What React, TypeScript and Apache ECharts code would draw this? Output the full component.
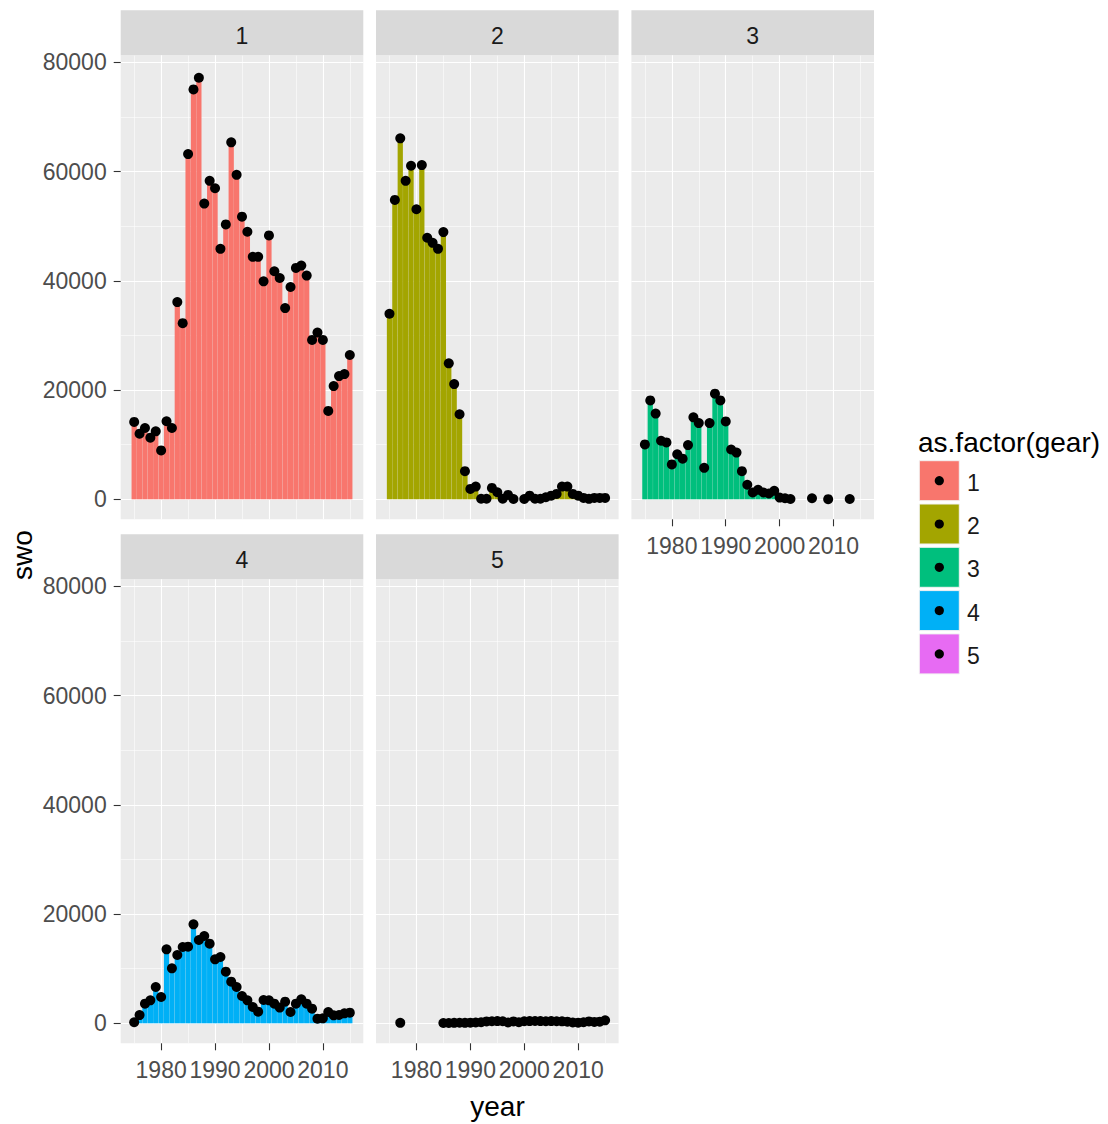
import React, { useEffect, useRef } from "react";
import * as echarts from "echarts";

// ---------- data ----------
const YEARS = [
  1975, 1976, 1977, 1978, 1979, 1980, 1981, 1982, 1983, 1984, 1985, 1986, 1987, 1988,
  1989, 1990, 1991, 1992, 1993, 1994, 1995, 1996, 1997, 1998, 1999, 2000, 2001, 2002,
  2003, 2004, 2005, 2006, 2007, 2008, 2009, 2010, 2011, 2012, 2013, 2014, 2015,
];
const GEARS = ["1", "2", "3", "4", "5"];
const GEAR_COLORS = ["#F8766D", "#A3A500", "#00BF7D", "#00B0F6", "#E76BF3"];

const SWO_GEAR1 = [
  14160, 12015, 13057, 11280, 12444, 8950, 14283, 13057,
  36106, 32244, 63200, 75031, 77177, 54128, 58296, 56948,
  45852, 50327, 65346, 59400, 51737, 48979, 44381, 44381,
  39906, 48304, 41745, 40519, 35002, 38864, 42358, 42787,
  40948, 29179, 30527, 29179, 16183, 20719, 22558, 22926, 26420,
];
const SWO_GEAR2 = [
  33960, 54800, 66080, 58300, 61055, 53090, 61180, 47875,
  46956, 45852, 48917, 24888, 21087, 15570, 5150, 1900,
  2330, 100, 100, 2080, 1290, 100, 800, 50,
  null, 50, 670, 100, 100, 370, 670, 980,
  2330, 2330, 980, 670, 250, 80, 250, 250, 250,
];
const SWO_GEAR3 = [
  10044, 18100, 15690, 10726, 10416, 6386, 8246, 7440,
  9920, 15000, 13950, 5766, 13950, 19344, 18100, 14260,
  9114, 8556, 5146, 2666, 1240, 1736, 1240, 1054,
  1550, 310, 186, 50, null, null, null, 186,
  null, null, 30, null, null, null, 50, null, null,
];
const SWO_GEAR4 = [
  200, 1500, 3600, 4200, 6650, 4820, 13540, 10065,
  12505, 13970, 14030, 18120, 15250, 15980, 14580, 11710,
  12140, 9455, 7625, 6650, 5000, 4210, 2990, 2135,
  4270, 4210, 3600, 2870, 3965, 2074, 3600, 4390,
  3600, 2680, 850, 915, 2074, 1464, 1525, 1830, 1950,
];
const SWO_GEAR5 = [
  null, null, 80, null, null, null, null, null,
  null, null, 50, 60, 80, 100, 90, 120,
  150, 200, 350, 380, 400, 380, 150, 350,
  200, 380, 400, 420, 400, 380, 400, 380,
  360, 300, 150, 120, 200, 350, 250, 300, 550,
];
const SWO_BY_GEAR = [SWO_GEAR1, SWO_GEAR2, SWO_GEAR3, SWO_GEAR4, SWO_GEAR5];

const Y_MAJOR_TICKS = [0, 20000, 40000, 60000, 80000];
const Y_MINOR_TICKS = [10000, 30000, 50000, 70000];
const X_MAJOR_TICKS = [1980, 1990, 2000, 2010];
const X_MINOR_TICKS = [1975, 1985, 1995, 2005, 2015];

const X_TITLE = "year";
const Y_TITLE = "swo";
const LEGEND_TITLE = "as.factor(gear)";

// ---------- layout ----------
const W = 1108;
const H = 1124;
const FONT = "'Liberation Sans', Arial, Helvetica, sans-serif";
const X_MIN = 1972.5;
const X_MAX = 2017.5;
const Y_MIN = -3661;
const Y_MAX = 81281;
const PANEL_W = 242.6;
const PANEL_H = 464;
const COL_LEFT = [120.7, 376, 631.4];
const ROW_TOP = [55.3, 579.3];
const STRIP_H = 45;
const PANEL_POS = [
  [0, 0],
  [1, 0],
  [2, 0],
  [0, 1],
  [1, 1],
];
const SHOW_X_LABELS = [false, false, true, true, true];
const SHOW_Y_LABELS = [true, false, false, true, false];

function buildOption() {
  const grids: any[] = [];
  const xAxes: any[] = [];
  const yAxes: any[] = [];
  const series: any[] = [];
  const graphics: any[] = [];

  GEARS.forEach((g, i) => {
    const [c, r] = PANEL_POS[i];
    const left = COL_LEFT[c];
    const top = ROW_TOP[r];
    grids.push({
      left,
      top,
      width: PANEL_W,
      height: PANEL_H,
      show: true,
      backgroundColor: "#EBEBEB",
      borderWidth: 0,
      containLabel: false,
    });
    const showX = SHOW_X_LABELS[i];
    const showY = SHOW_Y_LABELS[i];
    xAxes.push({
      type: "value",
      gridIndex: i,
      position: "bottom",
      min: X_MIN,
      max: X_MAX,
      minInterval: 10,
      maxInterval: 10,
      axisLine: { show: false, onZero: false },
      axisTick: {
        show: showX,
        length: 7,
        customValues: X_MAJOR_TICKS,
        lineStyle: { color: "#333333", width: 1.1 },
      },
      axisLabel: {
        show: showX,
        customValues: X_MAJOR_TICKS,
        color: "#4D4D4D",
        fontSize: 23,
        fontFamily: FONT,
        margin: 15,
        formatter: (v: number) => String(v),
      },
      splitLine: { show: true, lineStyle: { color: "#FFFFFF", width: 1.1 } },
      z: 1,
    });
    xAxes.push({
      type: "value",
      gridIndex: i,
      position: "bottom",
      min: X_MIN,
      max: X_MAX,
      minInterval: 5,
      maxInterval: 5,
      axisLine: { show: false, onZero: false },
      axisTick: { show: false, customValues: X_MINOR_TICKS },
      axisLabel: { show: false, customValues: X_MINOR_TICKS },
      splitLine: { show: true, lineStyle: { color: "#FFFFFF", width: 0.55 } },
      z: 0,
    });
    yAxes.push({
      type: "value",
      gridIndex: i,
      position: "left",
      min: Y_MIN,
      max: Y_MAX,
      minInterval: 20000,
      maxInterval: 20000,
      axisLine: { show: false, onZero: false },
      axisTick: {
        show: showY,
        length: 7,
        customValues: Y_MAJOR_TICKS,
        lineStyle: { color: "#333333", width: 1.1 },
      },
      axisLabel: {
        show: showY,
        customValues: Y_MAJOR_TICKS,
        color: "#4D4D4D",
        fontSize: 23,
        fontFamily: FONT,
        margin: 14,
        formatter: (v: number) => String(v),
      },
      splitLine: { show: true, lineStyle: { color: "#FFFFFF", width: 1.1 } },
      z: 1,
    });
    yAxes.push({
      type: "value",
      gridIndex: i,
      position: "left",
      min: Y_MIN,
      max: Y_MAX,
      minInterval: 10000,
      maxInterval: 10000,
      axisLine: { show: false, onZero: false },
      axisTick: { show: false, customValues: Y_MINOR_TICKS },
      axisLabel: { show: false, customValues: Y_MINOR_TICKS },
      splitLine: { show: true, lineStyle: { color: "#FFFFFF", width: 0.55 } },
      z: 0,
    });

    const values = SWO_BY_GEAR[i];
    const data: [number, number][] = [];
    YEARS.forEach((y, k) => {
      const v = values[k];
      if (v !== null && v !== undefined) data.push([y, v]);
    });

    series.push({
      type: "bar",
      name: g,
      xAxisIndex: 2 * i,
      yAxisIndex: 2 * i,
      data,
      barWidth: 5.25,
      itemStyle: { color: GEAR_COLORS[i], opacity: 1 },
      z: 3,
    });
    series.push({
      type: "scatter",
      name: g,
      xAxisIndex: 2 * i,
      yAxisIndex: 2 * i,
      data,
      symbol: "circle",
      symbolSize: 10,
      itemStyle: { color: "#000000", opacity: 1 },
      z: 4,
    });

    graphics.push({
      type: "rect",
      shape: { x: left, y: top - STRIP_H, width: PANEL_W, height: STRIP_H },
      style: { fill: "#D9D9D9" },
      z: 1,
    });
    graphics.push({
      type: "text",
      x: left + PANEL_W / 2,
      y: top - STRIP_H / 2 + 3,
      style: {
        text: g,
        fill: "#1A1A1A",
        font: `23px ${FONT}`,
        textAlign: "center",
        textVerticalAlign: "middle",
      },
      z: 2,
    });
  });

  graphics.push({
    type: "text",
    x: 497.5,
    y: 1106,
    style: {
      text: X_TITLE,
      fill: "#000000",
      font: `28px ${FONT}`,
      textAlign: "center",
      textVerticalAlign: "middle",
    },
  });
  graphics.push({
    type: "text",
    x: 22,
    y: 555,
    rotation: Math.PI / 2,
    style: {
      text: Y_TITLE,
      fill: "#000000",
      font: `28px ${FONT}`,
      textAlign: "center",
      textVerticalAlign: "middle",
    },
  });

  const LX = 919.3;
  const LY = 460.7;
  const KEY = 40;
  const PITCH = 43.3;
  graphics.push({
    type: "text",
    x: 918,
    y: 442,
    style: {
      text: LEGEND_TITLE,
      fill: "#000000",
      font: `28px ${FONT}`,
      textAlign: "left",
      textVerticalAlign: "middle",
    },
  });
  GEARS.forEach((g, i) => {
    const y = LY + i * PITCH;
    graphics.push({
      type: "rect",
      shape: { x: LX, y, width: KEY, height: KEY },
      style: { fill: GEAR_COLORS[i], stroke: "#F2F2F2", lineWidth: 1 },
    });
    graphics.push({
      type: "circle",
      shape: { cx: LX + KEY / 2, cy: y + KEY / 2, r: 4.6 },
      style: { fill: "#000000" },
    });
    graphics.push({
      type: "text",
      x: 967,
      y: y + KEY / 2 + 2,
      style: {
        text: g,
        fill: "#1A1A1A",
        font: `23px ${FONT}`,
        textAlign: "left",
        textVerticalAlign: "middle",
      },
    });
  });

  return {
    animation: false,
    backgroundColor: "#FFFFFF",
    textStyle: { fontFamily: FONT },
    grid: grids,
    xAxis: xAxes,
    yAxis: yAxes,
    series,
    graphic: graphics,
  };
}

export default function App() {
  const ref = useRef<HTMLDivElement | null>(null);
  useEffect(() => {
    if (!ref.current) return;
    const chart = echarts.init(ref.current, null, { renderer: "svg" });
    chart.setOption(buildOption() as any);
    return () => chart.dispose();
  }, []);
  return (
    <div
      ref={ref}
      style={{ position: "absolute", left: 0, top: 0, width: W, height: H }}
    />
  );
}
